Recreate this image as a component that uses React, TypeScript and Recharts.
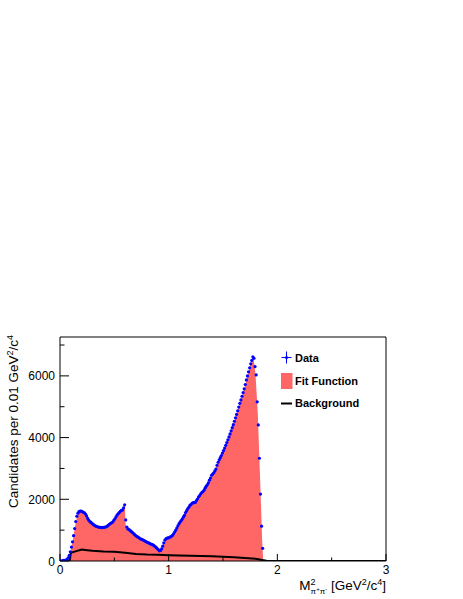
import {
  ComposedChart,
  Area,
  Line,
  Scatter,
  XAxis,
  YAxis,
  ReferenceArea,
  Legend,
} from 'recharts';

// histogram binning of M^2(pi+pi-)
const BIN_WIDTH = 0.01;
const FIRST_BIN_CENTRE = 0.005;

// candidates per 0.01 GeV^2/c^4, one entry per bin starting at 0.005
const counts = [
  0, 0, 10, 20, 20, 30, 50, 100, 180, 300,
  450, 620, 820, 1050, 1280, 1450, 1550, 1600, 1620, 1620,
  1600, 1580, 1560, 1520, 1460, 1380, 1320, 1280, 1250, 1220,
  1190, 1160, 1140, 1120, 1110, 1100, 1090, 1090, 1080, 1090,
  1090, 1100, 1110, 1130, 1160, 1190, 1220, 1240, 1260, 1320,
  1370, 1430, 1490, 1530, 1570, 1610, 1640, 1650, 1720, 1820,
  1330, 1100, 1040, 1020, 990, 960, 930, 900, 860, 830,
  800, 780, 760, 730, 710, 700, 680, 660, 640, 620,
  600, 590, 570, 550, 540, 520, 500, 470, 440, 400,
  370, 330, 340, 390, 480, 590, 680, 720, 740, 750,
  760, 780, 800, 830, 880, 940, 1000, 1070, 1140, 1210,
  1260, 1310, 1360, 1420, 1480, 1570, 1630, 1690, 1740, 1800,
  1830, 1870, 1890, 1890, 1900, 1960, 2010, 2080, 2120, 2180,
  2220, 2250, 2290, 2360, 2420, 2470, 2530, 2620, 2690, 2780,
  2820, 2860, 2920, 2980, 3100, 3200, 3280, 3350, 3420, 3500,
  3580, 3660, 3750, 3840, 3930, 4020, 4120, 4220, 4320, 4420,
  4530, 4640, 4750, 4870, 4990, 5110, 5220, 5340, 5460, 5580,
  5720, 5870, 6000, 6130, 6260, 6390, 6500, 6620, 6570, 6300,
  6030, 5160, 4410, 3330, 2170, 1130, 410,
];

// fit function (total), read at its knots
const fitMass = [
  0, 0.09, 0.095, 0.12, 0.14, 0.16, 0.18, 0.2, 0.22, 0.25,
  0.28, 0.32, 0.36, 0.4, 0.44, 0.48, 0.52, 0.56, 0.59, 0.597,
  0.603, 0.62, 0.66, 0.7, 0.75, 0.8, 0.85, 0.88, 0.91, 0.925,
  0.95, 0.97, 1.0, 1.05, 1.1, 1.15, 1.2, 1.25, 1.3, 1.35,
  1.4, 1.45, 1.5, 1.55, 1.6, 1.65, 1.7, 1.73, 1.76, 1.775,
  1.79, 1.8, 1.82, 1.84, 1.86, 1.87, 3,
];
const fitValue = [
  0, 0, 250, 700, 1150, 1500, 1610, 1620, 1580, 1450,
  1290, 1160, 1100, 1090, 1150, 1250, 1450, 1620, 1780, 1820,
  1180, 1060, 950, 820, 710, 620, 530, 460, 340, 330,
  550, 700, 750, 900, 1240, 1530, 1800, 1930, 2200, 2450,
  2790, 3150, 3540, 3970, 4470, 5050, 5650, 6050, 6450, 6600,
  6350, 6000, 4800, 2800, 700, 0, 0,
];

// background component
const bkgMass = [
  0, 0.05, 0.09, 0.1, 0.15, 0.2, 0.25, 0.3, 0.4, 0.5,
  0.6, 0.7, 0.8, 0.9, 1.0, 1.2, 1.4, 1.6, 1.7, 1.8,
  1.85, 1.9, 1.95, 3,
];
const bkgValue = [
  0, 10, 20, 270, 320, 370, 350, 330, 310, 300,
  270, 230, 210, 200, 190, 170, 150, 120, 100, 70,
  40, 10, 0, 0,
];

const xTicks = [0, 0.5, 1, 1.5, 2, 2.5, 3];
const yTicks = [0, 1000, 2000, 3000, 4000, 5000, 6000, 7000];
const Y_MAX = 7260;

const dataPoints = counts.map((v, i) => ({ m: FIRST_BIN_CENTRE + i * BIN_WIDTH, v }));
const fitPoints = fitMass.map((m, i) => ({ m, v: fitValue[i] }));
const bkgPoints = bkgMass.map((m, i) => ({ m, v: bkgValue[i] }));

const FONT = '"Liberation Sans", Arial, Helvetica, sans-serif';

const YTick = (props: any) => {
  const { x, y, payload } = props;
  const major = payload.value % 2000 === 0;
  return (
    <g>
      <line x1={x} x2={x + (major ? 9 : 4.5)} y1={y} y2={y} stroke="#000" />
      {major && (
        <text x={x - 5} y={y + 4.5} textAnchor="end" fontSize={12} fontFamily={FONT} fill="#000">
          {payload.value}
        </text>
      )}
    </g>
  );
};

const XTick = (props: any) => {
  const { x, y, payload } = props;
  const major = Number.isInteger(payload.value);
  return (
    <g>
      <line x1={x} x2={x} y1={y} y2={y - (major ? 7 : 3.5)} stroke="#000" />
      {major && (
        <text x={x} y={y + 12.5} textAnchor="middle" fontSize={12} fontFamily={FONT} fill="#000">
          {payload.value}
        </text>
      )}
    </g>
  );
};

const YTitle = ({ viewBox }: any) => (
  <text
    transform={`translate(18, ${viewBox.y - 2}) rotate(-90)`}
    textAnchor="end"
    fontSize={13.5}
    fontFamily={FONT}
    fill="#000"
  >
    Candidates per 0.01 GeV
    <tspan dy={-5} fontSize={9}>2</tspan>
    <tspan dy={5}>/c</tspan>
    <tspan dy={-5} fontSize={9}>4</tspan>
  </text>
);

const XTitle = ({ viewBox }: any) => (
  <text
    x={viewBox.x + viewBox.width}
    y={viewBox.y + 29}
    textAnchor="end"
    fontSize={13.5}
    fontFamily={FONT}
    fill="#000"
  >
    M
    <tspan dy={-5} fontSize={9}>2</tspan>
    <tspan dx={-5} dy={9} fontSize={8}>π</tspan>
    <tspan dy={-3} fontSize={6}>+</tspan>
    <tspan dy={3} fontSize={8}>π</tspan>
    <tspan dy={-3} fontSize={6}>-</tspan>
    <tspan dy={-1}> [GeV</tspan>
    <tspan dy={-5} fontSize={9}>2</tspan>
    <tspan dy={5}>/c</tspan>
    <tspan dy={-5} fontSize={9}>4</tspan>
    <tspan dy={5}>]</tspan>
  </text>
);

const DataDot = (props: any) => {
  const { cx, cy } = props;
  return <circle cx={cx} cy={cy} r={1.6} fill="#0000ff" />;
};

// ROOT-style legend box
const FitLegend = () => (
  <svg width={120} height={66} style={{ display: 'block' }}>
    <g fontFamily={FONT} fontSize={11} fontWeight="bold" fill="#000">
      <line x1={3.5} x2={13.5} y1={10.5} y2={10.5} stroke="#0000ff" />
      <line x1={8.5} x2={8.5} y1={4.5} y2={16.5} stroke="#0000ff" />
      <circle cx={8.5} cy={10.5} r={1.6} fill="#0000ff" />
      <text x={17} y={14.5}>Data</text>
      <rect x={3} y={26} width={11.5} height={16} fill="#ff6666" />
      <text x={17} y={38}>Fit Function</text>
      <line x1={3} x2={14} y1={56.5} y2={56.5} stroke="#000" strokeWidth={2} />
      <text x={17} y={60}>Background</text>
    </g>
  </svg>
);

export default function App() {
  return (
    <div style={{ position: 'absolute', left: 0, top: 0, width: 463, height: 599, background: '#fff' }}>
      <ComposedChart
        width={463}
        height={599}
        margin={{ top: 337, right: 77, bottom: 8, left: 10 }}
      >
        <XAxis
          dataKey="m"
          type="number"
          domain={[0, 3]}
          ticks={xTicks}
          interval={0}
          height={30}
          axisLine={false}
          tickLine={false}
          tickSize={0}
          tickMargin={0}
          tick={<XTick />}
          allowDataOverflow
          label={XTitle}
        />
        <YAxis
          type="number"
          domain={[0, Y_MAX]}
          ticks={yTicks}
          interval={0}
          width={50}
          axisLine={false}
          tickLine={false}
          tickSize={0}
          tickMargin={0}
          tick={<YTick />}
          allowDataOverflow
          label={YTitle}
        />
        <Area
          data={fitPoints}
          dataKey="v"
          type="linear"
          fill="#ff6666"
          fillOpacity={1}
          stroke="none"
          isAnimationActive={false}
        />
        <Line
          data={bkgPoints}
          dataKey="v"
          type="linear"
          stroke="#000"
          strokeWidth={2}
          dot={false}
          isAnimationActive={false}
        />
        <Scatter data={dataPoints} dataKey="v" shape={DataDot} isAnimationActive={false} />
        <ReferenceArea x1={0} x2={3} y1={0} y2={Y_MAX} fill="none" stroke="#000" strokeWidth={1} />
        <Legend
          layout="vertical"
          align="center"
          verticalAlign="middle"
          wrapperStyle={{ left: 278, top: 347, width: 120 }}
          content={FitLegend}
        />
      </ComposedChart>
    </div>
  );
}
